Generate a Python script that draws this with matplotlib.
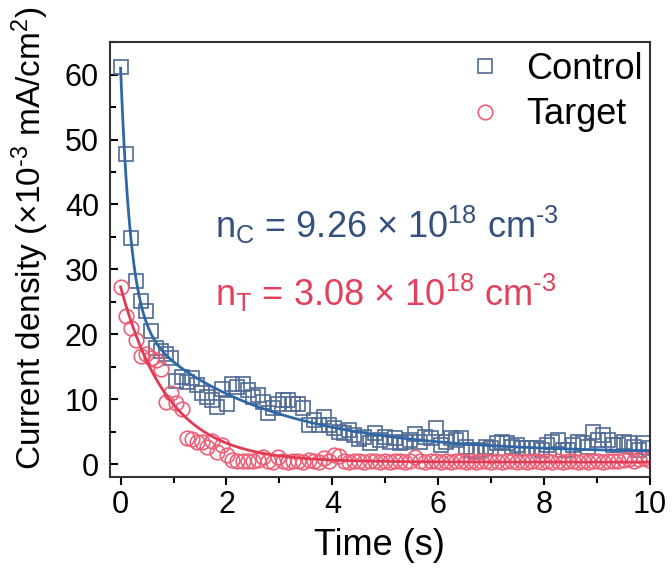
import numpy as np
import matplotlib.pyplot as plt
from matplotlib.ticker import MultipleLocator

plt.rcParams['font.family'] = ['Liberation Sans', 'DejaVu Sans']
plt.rcParams['mathtext.fontset'] = 'custom'
plt.rcParams['mathtext.rm'] = 'Liberation Sans'
plt.rcParams['mathtext.it'] = 'Liberation Sans'
plt.rcParams['mathtext.default'] = 'regular'

# =========================
# data
# =========================
DT = 0.096
control = [
    61.2, 47.8, 34.8, 28.2, 25.1, 23.6, 20.5, 17.9, 17.4, 16.9,
    16.3, 12.8, 13.4, 12.7, 13.2, 12.2, 10.9, 10.4, 9.8, 8.8,
    11.5, 9.2, 12.3, 11.9, 12.4, 11.4, 10.4, 10.6, 9.6, 7.8,
    8.6, 9.3, 9.8, 9.8, 9.3, 9.3, 8.6, 6.0, 6.8, 6.0,
    7.3, 6.0, 5.5, 5.0, 4.8, 5.2, 4.5, 3.9, 4.2, 3.2,
    4.8, 3.7, 4.2, 3.4, 4.0, 3.2, 3.4, 3.7, 4.7, 3.4,
    4.2, 4.0, 5.5, 2.9, 3.4, 4.0, 3.7, 4.0, 2.7, 2.2,
    1.9, 2.2, 2.7, 2.4, 3.2, 3.4, 3.2, 2.7, 2.9, 2.4,
    2.4, 2.4, 2.4, 2.2, 2.9, 3.4, 3.7, 2.2, 2.2, 2.9,
    3.4, 3.2, 2.7, 5.0, 3.7, 4.5, 3.7, 2.9, 2.9, 3.4,
    3.2, 2.7, 2.2, 3.2, 2.4,
]
target = [
    27.3, 22.8, 21.0, 19.1, 16.6, 17.0, 16.4, 16.1, 14.6, 9.5,
    11.0, 9.4, 8.5, 4.0, 3.9, 3.4, 3.4, 2.6, 3.5, 1.8,
    2.9, 1.4, 0.6, 0.4, 0.4, 0.5, 0.4, 0.6, 1.1, 0.4,
    0.3, 1.1, 0.4, 0.3, 0.5, 0.4, 0.3, 0.6, 0.4, 0.3,
    1.0, 0.4, 1.4, 1.2, 0.4, 0.3, 0.5, 0.4, 0.3, 0.4,
    0.5, 0.3, 0.4, 0.3, 0.4, 0.5, 0.3, 0.4, 1.1, 0.4,
    0.3, 0.4, 0.5, 0.3, 0.4, 0.3, 0.5, 0.4, 0.3, 0.4,
    0.3, 0.5, 0.4, 0.3, 0.4, 0.3, 0.4, 0.5, 0.3, 0.4,
    0.3, 0.4, 0.5, 0.3, 0.4, 0.3, 0.4, 0.3, 0.5, 0.4,
    0.3, 0.4, 0.3, 0.5, 0.4, 0.3, 0.4, 0.5, 0.4, 0.6,
    0.7, 0.5, 0.8, 0.9, 0.6,
]
time = np.arange(len(control)) * DT

# fitted decay parameters (y0, A1, tau1, A2, tau2)
FIT_C = (1.7, 38.3, 0.19, 21.0, 2.4)
FIT_T = (0.3, 27.0, 0.9, 0.0, 1.0)

C_MARK = "#4f6b93"
C_LINE = "#2f67a6"
T_MARK = "#ee6077"
T_LINE = "#e23a53"
C_TEXT = "#33507e"
T_TEXT = "#e2405c"
HY = "\u2010"  # short hyphen for exponents


def decay(t, p):
    y0, a1, t1, a2, t2 = p
    return y0 + a1 * np.exp(-t / t1) + a2 * np.exp(-t / t2)


tt = np.linspace(0, 10, 400)

fig = plt.figure(figsize=(6.72, 5.71), dpi=100)
ax = fig.add_axes([0.1637, 0.1646, 0.8033, 0.7614])

ax.plot(time, control, ls="none", marker="s", ms=10, mfc="none",
        mec=C_MARK, mew=1.2, label="Control")
ax.plot(time, target, ls="none", marker="o", ms=10.5, mfc="none",
        mec=T_MARK, mew=1.2, label="Target")
ax.plot(tt, decay(tt, FIT_C), color=C_LINE, lw=2)
ax.plot(tt, decay(tt, FIT_T), color=T_LINE, lw=2)

ax.set_xlim(-0.2, 10)
ax.set_ylim(-2, 65)
ax.xaxis.set_major_locator(MultipleLocator(2))
ax.xaxis.set_minor_locator(MultipleLocator(1))
ax.yaxis.set_major_locator(MultipleLocator(10))
ax.yaxis.set_minor_locator(MultipleLocator(5))
ax.tick_params(axis="x", which="both", direction="out", width=1.5,
               labelsize=22, pad=3)
ax.tick_params(axis="x", which="major", length=6)
ax.tick_params(axis="x", which="minor", length=4)
ax.tick_params(axis="y", which="both", direction="in", width=1.5,
               labelsize=22, pad=8)
ax.tick_params(axis="y", which="major", length=6)
ax.tick_params(axis="y", which="minor", length=4)
for s in ax.spines.values():
    s.set_linewidth(1.5)
    s.set_color("#333333")

ax.set_xlabel("Time (s)", fontsize=26, labelpad=6)
ax.set_ylabel(f"Current density (×10$^{{{HY}3}}$ mA/cm$^{{2}}$)",
              fontsize=24)
ax.yaxis.set_label_coords(-0.11, 0.55)

ax.text(0.194, 0.579, f"n$_{{C}}$ = 9.26 × 10$^{{18}}$ cm$^{{{HY}3}}$",
        transform=ax.transAxes, fontsize=26, color=C_TEXT, va="center")
ax.text(0.194, 0.423, f"n$_{{T}}$ = 3.08 × 10$^{{18}}$ cm$^{{{HY}3}}$",
        transform=ax.transAxes, fontsize=26, color=T_TEXT, va="center")

ax.legend(loc="upper right", bbox_to_anchor=(1.04, 1.045), frameon=False,
          fontsize=26, handletextpad=0.55, labelspacing=0.3, borderpad=0.3,
          handlelength=1.2)

fig.savefig("out.png", dpi=100)
